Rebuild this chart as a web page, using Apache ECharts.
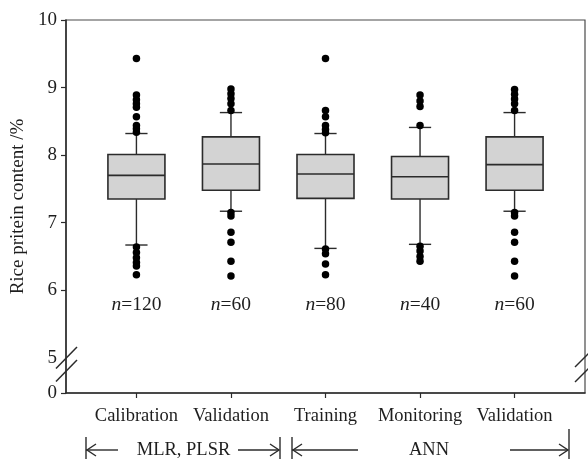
<!DOCTYPE html>
<html>
<head>
<meta charset="utf-8">
<script src="https://cdn.jsdelivr.net/npm/echarts@6/dist/echarts.min.js"></script>
<style>
html,body{margin:0;padding:0;background:#fff;}
#chart{width:588px;height:459px;}
</style>
</head>
<body>
<div id="chart"></div>
<script>
// ---- data ----
const categories = ['Calibration', 'Validation', 'Training', 'Monitoring', 'Validation'];
const sampleCounts = [120, 60, 80, 40, 60];
// [lower whisker, Q1, median, Q3, upper whisker]
const calibrationBox = [6.67, 7.35, 7.70, 8.01, 8.32];
const validation1Box = [7.17, 7.48, 7.87, 8.27, 8.63];
const trainingBox    = [6.62, 7.36, 7.72, 8.01, 8.32];
const monitoringBox  = [6.68, 7.35, 7.68, 7.98, 8.41];
const validation2Box = [7.17, 7.48, 7.86, 8.27, 8.63];
// outliers
const calibrationOut = [9.43, 8.89, 8.82, 8.76, 8.71, 8.57, 8.44, 8.39, 8.34, 6.64, 6.56, 6.48, 6.41, 6.36, 6.23];
const validation1Out = [8.98, 8.91, 8.84, 8.76, 8.66, 7.15, 7.10, 6.86, 6.71, 6.43, 6.21];
const trainingOut    = [9.43, 8.66, 8.57, 8.44, 8.38, 8.33, 6.61, 6.54, 6.39, 6.23];
const monitoringOut  = [8.89, 8.80, 8.72, 8.44, 6.65, 6.58, 6.50, 6.43];
const validation2Out = [8.97, 8.90, 8.83, 8.76, 8.66, 7.15, 7.10, 6.86, 6.71, 6.43, 6.21];
const yTickValues = [0, 5, 6, 7, 8, 9, 10];

// ---- build ----
const boxes = [calibrationBox, validation1Box, trainingBox, monitoringBox, validation2Box];
const outs = [calibrationOut, validation1Out, trainingOut, monitoringOut, validation2Out];
const boxData = boxes.map((b, i) => [i].concat(b).concat([sampleCounts[i]]));
const outData = [];
outs.forEach((arr, i) => arr.forEach(v => outData.push([i, v])));

const Y_MIN = 4.48, Y_MAX = 10;
const FONT = '"Liberation Serif", "Times New Roman", serif';
const INK = '#1e1e1e';
const LINE = '#2b2b2b';

const chart = echarts.init(document.getElementById('chart'), null, {renderer: 'canvas'});

const option = {
  animation: false,
  backgroundColor: '#fff',
  grid: {left: 66, right: 3, top: 20, bottom: 66, show: true, borderColor: '#4a4a4a', borderWidth: 1.2,
    containLabel: false, outerBoundsMode: 'none'},
  xAxis: {
    type: 'value', min: -0.745, max: 4.745,
    axisLine: {show: true, onZero: false, lineStyle: {color: LINE, width: 1.5}},
    axisTick: {show: true, length: 5, lineStyle: {color: LINE, width: 1.2}, customValues: [0, 1, 2, 3, 4]},
    axisLabel: {show: true, customValues: [0, 1, 2, 3, 4], margin: 14,
      formatter: v => categories[Math.round(v)], color: INK, fontFamily: FONT, fontSize: 18.5},
    splitLine: {show: false}
  },
  yAxis: {
    type: 'value', min: Y_MIN, max: Y_MAX,
    name: 'Rice pritein content /%', nameLocation: 'middle', nameRotate: 90, nameGap: 31,
    nameTextStyle: {color: INK, fontFamily: FONT, fontSize: 19},
    axisLine: {show: true, onZero: false, lineStyle: {color: LINE, width: 1.5}},
    axisTick: {show: true, length: 5, lineStyle: {color: LINE, width: 1.2},
      customValues: [Y_MIN, 6, 7, 8, 9, 10]},
    axisLabel: {show: true, margin: 9, color: INK, fontFamily: FONT, fontSize: 19,
      customValues: [Y_MIN].concat(yTickValues.slice(1)),
      formatter: v => (v < 4.9 ? String(yTickValues[0]) : String(Math.round(v)))},
    splitLine: {show: false}
  },
  series: [
    {
      type: 'custom',
      data: boxData,
      encode: {x: 0, y: [1, 2, 3, 4, 5]},
      z: 2,
      renderItem: function (params, api) {
        const x = api.value(0);
        const lo = api.coord([x, api.value(1)]);
        const q1 = api.coord([x, api.value(2)]);
        const md = api.coord([x, api.value(3)]);
        const q3 = api.coord([x, api.value(4)]);
        const hi = api.coord([x, api.value(5)]);
        const lab = api.coord([x, 5.78]);
        const bw = api.size([0.603, 0])[0];
        const cw = api.size([0.235, 0])[0];
        const cx = lo[0];
        const st = {stroke: LINE, lineWidth: 1.4};
        return {
          type: 'group',
          children: [
            {type: 'line', shape: {x1: cx, y1: hi[1], x2: cx, y2: q3[1]}, style: st},
            {type: 'line', shape: {x1: cx, y1: q1[1], x2: cx, y2: lo[1]}, style: st},
            {type: 'line', shape: {x1: cx - cw / 2, y1: hi[1], x2: cx + cw / 2, y2: hi[1]}, style: st},
            {type: 'line', shape: {x1: cx - cw / 2, y1: lo[1], x2: cx + cw / 2, y2: lo[1]}, style: st},
            {type: 'rect', shape: {x: cx - bw / 2, y: q3[1], width: bw, height: q1[1] - q3[1]},
              style: {fill: '#d3d3d3', stroke: LINE, lineWidth: 1.6}},
            {type: 'line', shape: {x1: cx - bw / 2, y1: md[1], x2: cx + bw / 2, y2: md[1]},
              style: {stroke: LINE, lineWidth: 1.6}},
            {type: 'text', x: cx, y: lab[1],
              style: {
                text: '{i|n}{r|=' + api.value(6) + '}',
                align: 'center', verticalAlign: 'middle',
                rich: {
                  i: {fontFamily: FONT, fontStyle: 'italic', fontSize: 19.5, fill: INK},
                  r: {fontFamily: FONT, fontSize: 19.5, fill: INK}
                }
              }}
          ]
        };
      }
    },
    {
      type: 'scatter',
      data: outData,
      symbol: 'circle',
      symbolSize: 7.5,
      itemStyle: {color: '#000', opacity: 1},
      z: 3
    }
  ],
  graphic: [
    // axis break marks (left)
    {type: 'line', shape: {x1: 56, y1: 368.5, x2: 77, y2: 347}, style: {stroke: LINE, lineWidth: 1.5}},
    {type: 'line', shape: {x1: 56, y1: 381.5, x2: 77, y2: 360}, style: {stroke: LINE, lineWidth: 1.5}},
    // axis break marks (right)
    {type: 'line', shape: {x1: 575, y1: 367, x2: 596, y2: 346}, style: {stroke: LINE, lineWidth: 1.5}},
    {type: 'line', shape: {x1: 575, y1: 382, x2: 596, y2: 361}, style: {stroke: LINE, lineWidth: 1.5}},
    // MLR, PLSR bracket
    {type: 'line', shape: {x1: 86, y1: 437, x2: 86, y2: 459}, style: {stroke: LINE, lineWidth: 1.4}},
    {type: 'line', shape: {x1: 86, y1: 450, x2: 118, y2: 450}, style: {stroke: LINE, lineWidth: 1.4}},
    {type: 'polyline', shape: {points: [[96, 444], [87, 450], [96, 456]]}, style: {stroke: LINE, lineWidth: 1.4, fill: null}},
    {type: 'text', x: 183.5, y: 450, style: {text: 'MLR, PLSR', fontFamily: FONT, fontSize: 18.5, fill: INK, align: 'center', verticalAlign: 'middle'}},
    {type: 'line', shape: {x1: 238, y1: 450, x2: 279, y2: 450}, style: {stroke: LINE, lineWidth: 1.4}},
    {type: 'polyline', shape: {points: [[270, 444], [279, 450], [270, 456]]}, style: {stroke: LINE, lineWidth: 1.4, fill: null}},
    {type: 'line', shape: {x1: 280, y1: 437, x2: 280, y2: 459}, style: {stroke: LINE, lineWidth: 1.4}},
    // ANN bracket
    {type: 'line', shape: {x1: 292, y1: 437, x2: 292, y2: 459}, style: {stroke: LINE, lineWidth: 1.4}},
    {type: 'line', shape: {x1: 292, y1: 450, x2: 358, y2: 450}, style: {stroke: LINE, lineWidth: 1.4}},
    {type: 'polyline', shape: {points: [[302, 444], [293, 450], [302, 456]]}, style: {stroke: LINE, lineWidth: 1.4, fill: null}},
    {type: 'text', x: 429, y: 450, style: {text: 'ANN', fontFamily: FONT, fontSize: 18.5, fill: INK, align: 'center', verticalAlign: 'middle'}},
    {type: 'line', shape: {x1: 510, y1: 450, x2: 568, y2: 450}, style: {stroke: LINE, lineWidth: 1.4}},
    {type: 'polyline', shape: {points: [[559, 444], [568, 450], [559, 456]]}, style: {stroke: LINE, lineWidth: 1.4, fill: null}},
    {type: 'line', shape: {x1: 569, y1: 429, x2: 569, y2: 459}, style: {stroke: LINE, lineWidth: 1.4}}
  ]
};
chart.setOption(option);
</script>
</body>
</html>
